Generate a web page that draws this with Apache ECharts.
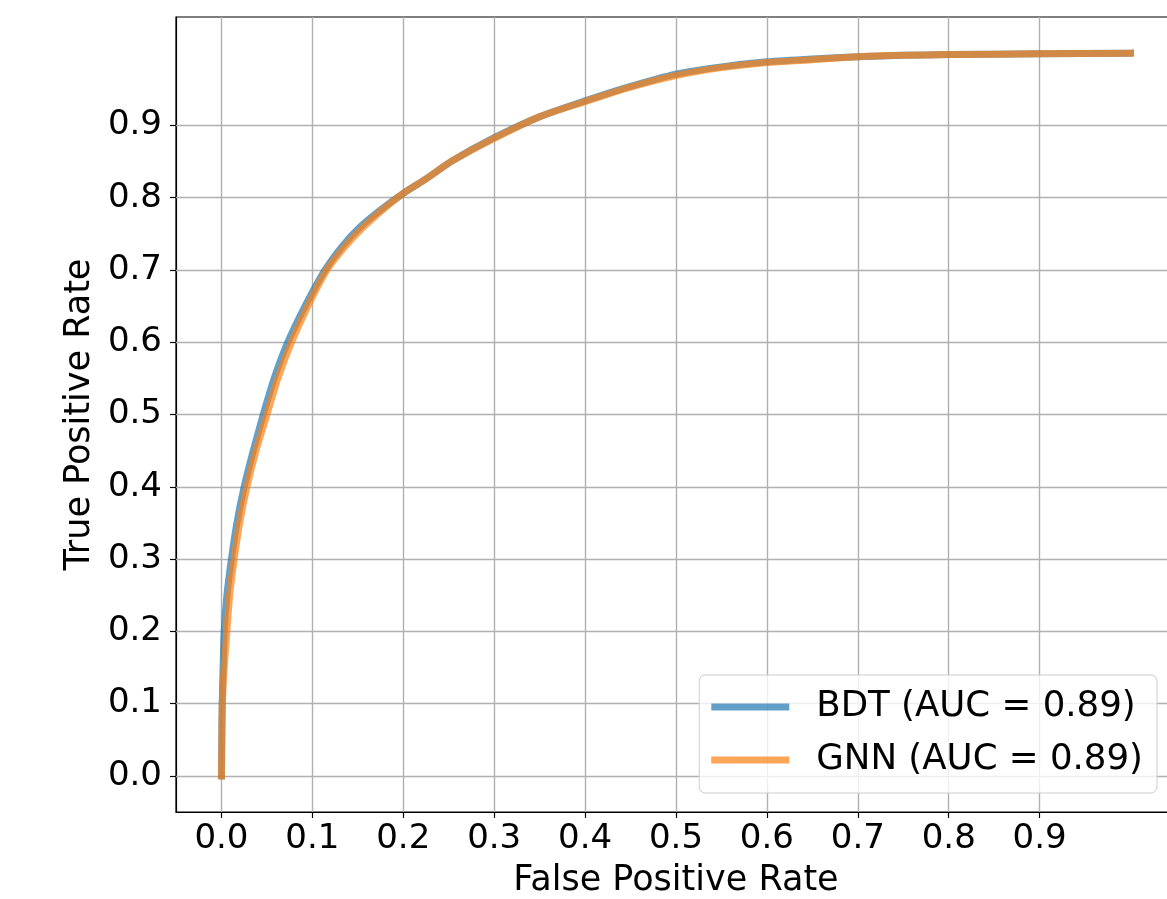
<!DOCTYPE html>
<html>
<head>
<meta charset="utf-8">
<script src="https://cdn.jsdelivr.net/npm/echarts@6/dist/echarts.min.js"></script>
<style>
  html, body { margin: 0; padding: 0; background: #fff; overflow: hidden; }
  #chart { width: 1167px; height: 899px; }
</style>
</head>
<body>
<div id="chart"></div>
<script>
// ---- data ----
const bdtName = 'BDT (AUC = 0.89)';
const gnnName = 'GNN (AUC = 0.89)';

const bdtFpr = [0, 0.0003, 0.0008, 0.0018, 0.003, 0.006, 0.011, 0.017, 0.025, 0.035, 0.046, 0.058, 0.073, 0.092, 0.114, 0.133, 0.153, 0.176, 0.2, 0.225, 0.254, 0.3, 0.35, 0.4, 0.45, 0.5, 0.55, 0.6, 0.65, 0.7, 0.75, 0.8, 0.9, 1.0];
const bdtTpr = [0, 0.05, 0.1, 0.15, 0.2, 0.25, 0.3, 0.35, 0.4, 0.45, 0.5, 0.55, 0.6, 0.65, 0.7, 0.733, 0.76, 0.784, 0.806, 0.826, 0.851, 0.883, 0.912, 0.934, 0.954, 0.971, 0.981, 0.988, 0.992, 0.995, 0.997, 0.998, 0.999, 1.0];

const gnnFpr = [0, 0.0005, 0.001, 0.003, 0.006, 0.009, 0.014, 0.02, 0.028, 0.038, 0.05, 0.062, 0.077, 0.095, 0.116, 0.135, 0.155, 0.177, 0.2, 0.225, 0.254, 0.3, 0.35, 0.4, 0.45, 0.5, 0.55, 0.6, 0.65, 0.7, 0.75, 0.8, 0.9, 1.0];
const gnnTpr = [0, 0.05, 0.1, 0.15, 0.2, 0.25, 0.3, 0.35, 0.4, 0.45, 0.5, 0.55, 0.6, 0.65, 0.7, 0.731, 0.758, 0.783, 0.806, 0.826, 0.851, 0.882, 0.912, 0.933, 0.953, 0.969, 0.980, 0.987, 0.991, 0.995, 0.997, 0.998, 0.999, 1.0];

const xTicks = [0, 0.1, 0.2, 0.3, 0.4, 0.5, 0.6, 0.7, 0.8, 0.9];
const yTicks = [0, 0.1, 0.2, 0.3, 0.4, 0.5, 0.6, 0.7, 0.8, 0.9];
const xTitle = 'False Positive Rate';
const yTitle = 'True Positive Rate';

// ---- chart ----
const FONT = 'DejaVu Sans';
const chart = echarts.init(document.getElementById('chart'), null, { renderer: 'canvas' });

const pairs = (xs, ys) => xs.map((x, i) => [x, ys[i]]);

const gridLineData = xTicks.map(v => ({ xAxis: v })).concat(yTicks.map(v => ({ yAxis: v })));

const option = {
  animation: false,
  backgroundColor: '#ffffff',
  grid: {
    left: 176, top: 17, width: 1000, height: 795,
    outerBoundsMode: 'none', containLabel: false,
    show: true, borderColor: '#000000', borderWidth: 1.2, backgroundColor: 'transparent'
  },
  xAxis: {
    type: 'value', min: -0.05, max: 1.05,
    name: xTitle, nameLocation: 'middle', nameGap: 51,
    nameTextStyle: { fontFamily: FONT, fontSize: 35, color: '#000' },
    axisLine: { show: true, onZero: false, lineStyle: { color: '#000', width: 1.2 } },
    axisTick: { show: true, inside: false, length: 6, customValues: xTicks, lineStyle: { color: '#000', width: 1.2 } },
    axisLabel: { customValues: xTicks, margin: 10, fontFamily: FONT, fontSize: 34, color: '#000',
                 formatter: v => v.toFixed(1) },
    splitLine: { show: false }
  },
  yAxis: {
    type: 'value', min: -0.05, max: 1.05,
    name: yTitle, nameLocation: 'middle', nameGap: 77,
    nameTextStyle: { fontFamily: FONT, fontSize: 35, color: '#000' },
    axisLine: { show: true, onZero: false, lineStyle: { color: '#000', width: 1.2 } },
    axisTick: { show: true, inside: false, length: 6, customValues: yTicks, lineStyle: { color: '#000', width: 1.2 } },
    axisLabel: { customValues: yTicks, margin: 14, fontFamily: FONT, fontSize: 34, color: '#000',
                 formatter: v => v.toFixed(1) },
    splitLine: { show: false }
  },
  legend: {
    data: [bdtName, gnnName],
    orient: 'vertical',
    right: 10, bottom: 106,
    z: 20,
    padding: [14, 14, 15, 12],
    itemGap: 17,
    itemWidth: 78, itemHeight: 7,
    icon: 'rect',
    backgroundColor: 'rgba(255,255,255,0.8)',
    borderColor: '#cccccc', borderWidth: 1, borderRadius: 6,
    textStyle: { fontFamily: FONT, fontSize: 35.6, color: '#000', padding: [0, 0, 0, 22] }
  },
  series: [
    {
      name: '_grid', type: 'line', data: [], z: 1, silent: true,
      markLine: {
        silent: true, symbol: ['none', 'none'], label: { show: false }, animation: false,
        z: 1,
        lineStyle: { type: 'solid', color: '#b0b0b0', width: 1.4 },
        emphasis: { disabled: true },
        data: gridLineData
      }
    },
    {
      name: bdtName, type: 'line', z: 3,
      data: pairs(bdtFpr, bdtTpr),
      showSymbol: false, symbol: 'none', smooth: 0.25,
      color: 'rgba(31,119,180,0.7)',
      lineStyle: { color: 'rgba(31,119,180,0.7)', width: 7, cap: 'square', join: 'round' }
    },
    {
      name: gnnName, type: 'line', z: 4,
      data: pairs(gnnFpr, gnnTpr),
      showSymbol: false, symbol: 'none', smooth: 0.25,
      color: 'rgba(255,127,14,0.7)',
      lineStyle: { color: 'rgba(255,127,14,0.7)', width: 7, cap: 'square', join: 'round' }
    }
  ]
};
chart.setOption(option);
</script>
</body>
</html>
